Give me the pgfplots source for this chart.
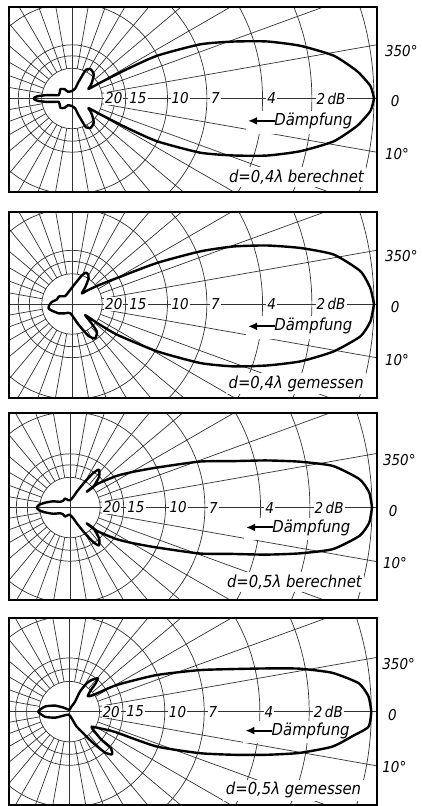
\documentclass[border=0pt]{standalone}
\usepackage{pgfplots}
\pgfplotsset{compat=1.18}
\usetikzlibrary{arrows.meta}
\usepackage{fontspec}
\setmainfont{DejaVu Sans Condensed}[ItalicFont={DejaVu Sans Condensed Oblique}]

\newcommand\labfont{\fontsize{15}{15}\selectfont\itshape}
\newcommand\bigfont{\fontsize{16.5}{16.5}\selectfont\itshape}

\tikzset{
 gridline/.style={line width=0.7pt, black!80},
 pat/.style={line width=2.4pt, black, line join=round, smooth, tension=0.35},
 dbl/.style={anchor=west, fill=white, inner sep=1pt, font=\labfont},
 rlab/.style={anchor=west, inner sep=0pt, font=\labfont},
}

\newcommand\polargrid{%
 \draw[gridline] (axis cs:-1,0) -- (axis cs:2,0);
 \draw[gridline] (axis cs:0,-1) -- (axis cs:0,1);
 \pgfplotsinvokeforeach{0.1,0.1413,0.1778,0.3162,0.4467,0.6310,0.7943,1.0}{\draw[gridline] (axis cs:0,0) circle[radius={##1*302pt}];}
 \pgfplotsinvokeforeach{10,20,30,40,50,60,70,80,100,110,120,130,140,150,160,170,190,200,210,220,230,240,250,260,280,290,300,310,320,330,340,350}{\draw[gridline] ([shift={(axis cs:0,0)}] ##1:{0.1*302pt}) -- ([shift={(axis cs:0,0)}] ##1:{1.7*302pt});}
 \node[dbl] at (axis cs:0.106,0) {20};
 \node[dbl] at (axis cs:0.186,0) {15};
 \node[dbl] at (axis cs:0.326,0) {10};
 \node[dbl] at (axis cs:0.457,0) {7};
 \node[dbl] at (axis cs:0.643,0) {4};
 \node[dbl] at (axis cs:0.806,0) {2\,dB};
}
\newcommand\damp[1]{%
 \fill[white] (axis cs:0.575,#1+0.033) rectangle (axis cs:0.94,#1-0.042);
 \draw[line width=2pt,-{Latex[length=9pt,width=8pt]}] (axis cs:0.672,#1) -- (axis cs:0.583,#1);
 \node[anchor=west, inner sep=0.5pt, font=\bigfont] at (axis cs:0.668,#1) {Dämpfung};
}
\newcommand\dlab[2]{%
 \node[anchor=base east, fill=white, inner sep=2.5pt, font=\bigfont] at (axis cs:0.975,#1) {#2};
}

\pgfplotsset{
 panel/.style={anchor=north west, x=302pt, y=302pt, xtick=\empty, ytick=\empty,
  axis line style={line width=1.9pt}, axis on top, clip=true,
  extra description/.code={
   \node[rlab] at (axis cs:1.036,0.158) {350°};
   \node[rlab] at (axis cs:1.055,-0.01) {0};
   \node[rlab] at (axis cs:1.036,-0.185) {10°};
  }},
}

\begin{document}
\begin{tikzpicture}
\useasboundingbox (0pt,0pt) rectangle (421pt,-806pt);

% ---------- Panel 1 : d = 0,4 lambda berechnet
\begin{axis}[panel, at={(9pt,-7pt)}, xmin=-0.2086, xmax=1.010, ymin=-0.3096, ymax=0.303]
\polargrid
\damp{-0.074}
\dlab{-0.278}{d=0,4λ berechnet}
\addplot[pat, data cs=polar] table[x=a, y=r] {
a r
0 1.000
2.4 0.989
5.5 0.948
9.3 0.878
13 0.776
16.3 0.673
19.4 0.568
22.9 0.461
26.7 0.315
28.2 0.200
29.2 0.110
30 0.063
34 0.072
39 0.085
48 0.108
58 0.115
64 0.106
66 0.082
69 0.055
72 0.035
90 0.025
121 0.026
128 0.039
141 0.0495
155 0.045
166 0.0455
170 0.065
173 0.089
176 0.113
178.5 0.124
180 0.127
181.5 0.124
184 0.113
187 0.089
190 0.065
194 0.0455
205 0.045
219 0.0495
232 0.039
239 0.026
270 0.025
288 0.035
291 0.055
294 0.082
296 0.106
302 0.115
312 0.108
321 0.085
326 0.072
330 0.063
330.8 0.110
331.8 0.200
333.3 0.315
337.1 0.461
340.6 0.568
343.7 0.673
347 0.776
350.7 0.878
354.5 0.948
357.6 0.989
360 1.000
};
\end{axis}

% ---------- Panel 2 : d = 0,4 lambda gemessen
\begin{axis}[panel, at={(9pt,-212pt)}, xmin=-0.2086, xmax=1.010, ymin=-0.311, ymax=0.3046]
\polargrid
\damp{-0.074}
\dlab{-0.279}{d=0,4λ gemessen}
\addplot[pat, data cs=polar] table[x=a, y=r] {
a r
0 1.000
3.1 0.989
6.5 0.961
10.7 0.882
13.8 0.778
16.7 0.674
19.6 0.568
22.3 0.459
25.8 0.312
30 0.172
35 0.110
41 0.070
47 0.048
52 0.072
57 0.101
62 0.112
66 0.114
71 0.100
81 0.069
100 0.045
120 0.036
132 0.035
150 0.050
163 0.052
175 0.068
185 0.077
190.5 0.079
195.5 0.074
215 0.054
234 0.038
260 0.031
288 0.073
297.5 0.120
304 0.137
312 0.123
316 0.084
320 0.057
323 0.104
325.7 0.180
330.9 0.322
335.3 0.468
338.9 0.574
342.5 0.677
345.9 0.780
349.7 0.880
353.6 0.961
356.7 0.990
360 1.000
};
\end{axis}

% ---------- Panel 3 : d = 0,5 lambda berechnet
\begin{axis}[panel, at={(9pt,-413pt)}, xmin=-0.2020, xmax=1.0166, ymin=-0.306, ymax=0.313]
\polargrid
\damp{-0.066}
\dlab{-0.264}{d=0,5λ berechnet}
\addplot[pat, data cs=polar] table[x=a, y=r] {
a r
0 1.000
2.9 0.992
5.6 0.963
9 0.881
11.3 0.775
13.5 0.668
15.9 0.561
19.5 0.456
24.8 0.315
29.5 0.240
34.2 0.186
41.2 0.117
43.5 0.076
41.5 0.103
46.6 0.140
52.6 0.158
56 0.138
60 0.098
66 0.060
73 0.037
90 0.024
103 0.025
119 0.034
135 0.032
150 0.038
160 0.060
169 0.084
175 0.103
180 0.110
185 0.103
191 0.084
200 0.060
210 0.038
225 0.032
241 0.034
257 0.025
270 0.024
287 0.037
294 0.060
300 0.098
304 0.138
307.4 0.158
313.4 0.140
318.5 0.103
316.5 0.076
318.8 0.117
325.8 0.186
330.5 0.240
335.2 0.315
340.5 0.456
344.1 0.561
346.5 0.668
348.7 0.775
351 0.881
354.4 0.963
357.1 0.992
360 1.000
};
\end{axis}

% ---------- Panel 4 : d = 0,5 lambda gemessen
\begin{axis}[panel, at={(9pt,-618pt)}, xmin=-0.1997, xmax=1.019, ymin=-0.309, ymax=0.310]
\polargrid
\damp{-0.063}
\dlab{-0.276}{d=0,5λ gemessen}
\addplot[pat, data cs=polar] table[x=a, y=r] {
a r
0 1.000
2.9 0.992
5.6 0.963
8.4 0.880
10.6 0.774
12.4 0.666
14.6 0.559
17.7 0.452
22.8 0.312
29.4 0.179
34.8 0.096
40 0.080
45 0.101
47 0.128
49.6 0.145
54.8 0.128
58.5 0.110
62 0.075
60 0.038
70 0.015
90 0.006
146 0.024
157 0.051
168 0.082
180 0.103
192 0.082
203 0.051
214 0.024
260 0.010
289 0.023
296 0.055
301.7 0.078
306.7 0.124
311 0.179
315 0.200
318.7 0.184
318.8 0.142
322.6 0.100
326 0.089
332 0.120
336 0.165
338.2 0.310
342.3 0.452
345.2 0.559
347.6 0.666
349.8 0.773
352.4 0.878
355 0.940
357.1 0.992
360 1.000
};
\end{axis}
\end{tikzpicture}
\end{document}
